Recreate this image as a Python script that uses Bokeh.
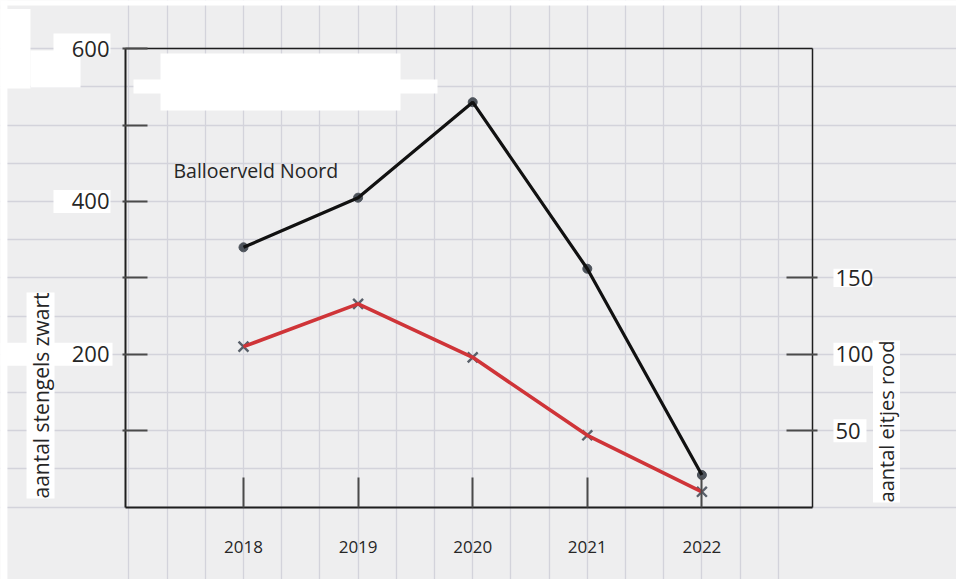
import math
from bokeh.plotting import figure
from bokeh.models import (Range1d, LinearAxis, FixedTicker, SingleIntervalTicker,
                          Grid, Label)
from bokeh.embed import file_html
from bokeh.resources import INLINE

# ---------------- data ----------------
years = [2018, 2019, 2020, 2021, 2022]
stengels_zwart = [340, 405, 530, 312, 42]      # left axis (black)
eitjes_rood = [105, 133, 98, 47, 10]           # right axis (red)

left_ticks = [100, 200, 300, 400, 500, 600]
left_tick_labels = {100: "", 200: "200", 300: "", 400: "400", 500: "", 600: "600"}
right_ticks = [50, 100, 150]
year_ticks = years

title_text = "Balloerveld Noord"
left_title = "aantal stengels zwart"
right_title = "aantal eitjes rood"

# ---------------- figure ----------------
FONT = "Open Sans"
INK = "#262626"

p = figure(width=956, height=579,
           x_range=Range1d(2015.8796, 2024.2216),
           y_range=Range1d(-94.77, 663.09),
           x_axis_location=None, y_axis_location=None,
           min_border=0, toolbar_location=None, output_backend="svg")
p.extra_y_ranges = {"right": Range1d(-47.385, 331.545)}
p.background_fill_color = "#eeeeef"
p.border_fill_color = "#eeeeef"
p.outline_line_color = None
for g in p.grid:
    g.visible = False

# graph-paper grid
p.add_layout(Grid(dimension=0, ticker=SingleIntervalTicker(interval=1/3),
                  grid_line_color="#d3d3db", grid_line_width=1.3))
p.add_layout(Grid(dimension=1, ticker=SingleIntervalTicker(interval=50),
                  grid_line_color="#d3d3db", grid_line_width=1.3))

# white-out patches of the scanned sheet
wl = [2015.85, 2015.85, 2017.276, 2017.040, 2015.85, 2016.141, 2016.342, 2016.342, 2015.85, 2023.148, 2023.148, 2023.148]
wr = [2024.30, 2015.94, 2019.370, 2019.693, 2016.141, 2016.578, 2016.839, 2016.839, 2016.857, 2023.489, 2023.558, 2023.436]
wt = [670.0, 670.0, 593.7, 559.6, 652.0, 597.7, 619.9, 415.0, 215.0, 312.0, 215.0, 115.0]
wb = [656.5, -100.0, 519.1, 541.3, 548.0, 549.2, 593.7, 385.0, 185.0, 288.0, 185.0, 85.0]
p.quad(left=wl, right=wr, top=wt, bottom=wb, fill_color="white", line_color=None)

x_left, x_right = 2016.97, 2022.965

# left axis
ax_l = LinearAxis(fixed_location=x_left, bounds=(0, 600),
                  ticker=FixedTicker(ticks=left_ticks),
                  major_label_overrides=left_tick_labels)
p.add_layout(ax_l, "left")

# right axis
ax_r = LinearAxis(fixed_location=x_right, y_range_name="right", bounds=(0, 300),
                  ticker=FixedTicker(ticks=right_ticks))
p.add_layout(ax_r, "right")

# bottom axis
ax_b = LinearAxis(fixed_location=0, bounds=(x_left, x_right),
                  ticker=FixedTicker(ticks=year_ticks))
p.add_layout(ax_b, "below")

# top frame line
ax_t = LinearAxis(fixed_location=600, bounds=(x_left, x_right),
                  ticker=FixedTicker(ticks=[]))
p.add_layout(ax_t, "above")

for ax in (ax_l, ax_r, ax_b, ax_t):
    ax.axis_line_color = "#1e1e1e"
    ax.axis_line_width = 2
    ax.major_tick_line_color = "#4a4a4a"
    ax.major_tick_line_width = 2
    ax.minor_tick_line_color = None
    ax.major_label_text_font = FONT
    ax.major_label_text_color = INK

ax_t.axis_line_width = 1.5
ax_r.axis_line_width = 1.5

ax_l.major_tick_in = 22
ax_l.major_tick_out = 3
ax_l.major_label_standoff = 13
ax_l.major_label_text_font_size = "22px"

ax_r.major_tick_in = 26
ax_r.major_tick_out = 5
ax_r.major_label_standoff = 18
ax_r.major_label_text_font_size = "22px"

ax_b.major_tick_in = 30
ax_b.major_tick_out = 0
ax_b.major_label_standoff = 34
ax_b.major_label_text_font_size = "17px"

# series
p.scatter(years, stengels_zwart, marker="circle", size=9,
          fill_color="#4d535b", line_color="#4d535b")
p.line(years, stengels_zwart, line_color="#111111", line_width=3.2)

p.scatter(years, eitjes_rood, y_range_name="right", marker="x", size=14,
          line_color="#59606a", line_width=2.4)
p.line(years, eitjes_rood, y_range_name="right", line_color="#cf3438", line_width=3.6)

# texts
p.add_layout(Label(x=2017.389, y=440.6, text=title_text, text_font=FONT,
                   text_font_size="19.5px", text_color=INK,
                   text_align="left", text_baseline="middle"))
p.add_layout(Label(x=2016.229, y=146.1, text=left_title, angle=math.pi / 2,
                   text_font=FONT, text_font_size="21px", text_color=INK,
                   text_align="center", text_baseline="middle",
                   background_fill_color="white"))
p.add_layout(Label(x=2023.611, y=112.0, text=right_title, angle=math.pi / 2,
                   text_font=FONT, text_font_size="20px", text_color=INK,
                   text_align="center", text_baseline="middle",
                   background_fill_color="white"))

open("out.html", "w").write(file_html(p, INLINE))
